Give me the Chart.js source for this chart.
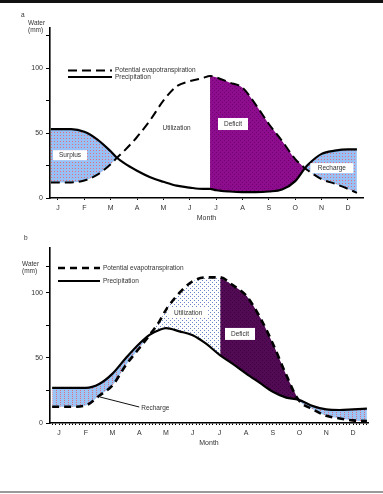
<!DOCTYPE html>
<html><head><meta charset="utf-8">
<script src="https://cdn.jsdelivr.net/npm/chart.js@4/dist/chart.umd.min.js"></script>
<style>
html,body{margin:0;padding:0;background:#fff;width:383px;height:494px;overflow:hidden}
body{position:relative}
#topbar{position:absolute;left:0;top:0;width:383px;height:3px;background:#111}
#bottombar{position:absolute;left:0;top:491px;width:383px;height:2px;background:#9a9a9a}
#ca{position:absolute;left:0;top:0}
#cb{position:absolute;left:0;top:230px}
</style></head><body>
<canvas id="ca" width="383" height="240"></canvas>
<canvas id="cb" width="383" height="224"></canvas>
<div id="topbar"></div>
<div id="bottombar"></div>
<script>
// ---------- data ----------
const MONTHS = ['J','F','M','A','M','J','J','A','S','O','N','D'];

// Panel a  (x = month index, J = 0)
const A_MONTH_POS = [-0.27,0,0.5,1,1.5,2,2.24,2.5,3,3.5,4,4.5,5,5.5,5.77,6,6.5,7,7.5,8,8.5,9,9.37,9.5,10,10.5,11,11.34];
const A_PRECIP    = [53,53,53,51,45,36,31,27,21,16,12.5,9.5,8,7,7,6,5,4.5,4.5,5,6.5,13,23,26,34,36.5,37.5,37.5];
const A_PET       = [12,12,12,13.5,18,26,31,36,47,60,75,86,90,92.5,94,93,89,85,72,57,44,30,23,21,14.5,11,7,4];
const A_DEFICIT_START = 5.77, A_DEFICIT_END = 9.37;
const A_LABELS = [
  {text:'Surplus', m:0.46, v:33, box:[34,10]},
  {text:'Utilization', m:4.5, v:54, box:null},
  {text:'Deficit', m:6.64, v:57, box:[30,12]},
  {text:'Recharge', m:10.39, v:23, box:[43,10]}
];

// Panel b
const B_MONTH_POS = [-0.26,0,0.5,1,1.5,2,2.5,3,3.4,3.75,4,4.5,5,5.5,6.03,6.5,7,7.5,8,8.5,8.95,9.5,10,10.5,11,11.52];
const B_PRECIP    = [27,27,27,27,30,38,50,61,68,71.5,73,70.5,67.5,61,52,45.5,38,31,24,19.5,18,13,10.5,10,10.5,11];
const B_PET       = [12.5,12.5,12.5,13.5,21,29,44.5,57.5,68,78,87,100,109,112,112,106,98,82,61,37,18,10.5,5.5,3.5,2,1.5];
const B_DEFICIT_START = 6.03, B_DEFICIT_END = 8.95;
const B_LABELS = [
  {text:'Utilization', m:4.83, v:84.6, box:[40,10]},
  {text:'Deficit', m:6.77, v:68.5, box:[30,12]},
  {text:'Recharge', m:3.6, v:11.5, box:null}
];
const B_LEADER = [[1.53,20],[3.0,12.3]];

const Y_LABELLED = [0,50,100];
const FONT = '"Liberation Sans", Arial, sans-serif';

// ---------- helpers ----------
function pattern(ctx, w, h, bg, fg, dots){
  const c = document.createElement('canvas'); c.width=w; c.height=h;
  const g = c.getContext('2d');
  g.fillStyle=bg; g.fillRect(0,0,w,h);
  g.fillStyle=fg; dots.forEach(d=>g.fillRect(d[0],d[1],d[2],d[3]));
  return ctx.createPattern(c,'repeat');
}
function pts(xs, ys){ return xs.map((x,i)=>({x:x, y:ys[i]})); }

function build(id, o){
  const canvas = document.getElementById(id);
  const ctx = canvas.getContext('2d');
  const s = o.x.indexOf(o.defStart), e = o.x.indexOf(o.defEnd);
  const datasets = [
    {data: pts(o.x.slice(s,e+1), o.pet.slice(s,e+1)), borderColor:'rgba(0,0,0,0)', borderWidth:0,
     pointRadius:0, fill:1, backgroundColor:o.fills.deficit, cubicInterpolationMode:'monotone'},
    {data: pts(o.x.slice(s,e+1), o.precip.slice(s,e+1)), borderColor:'rgba(0,0,0,0)', borderWidth:0,
     pointRadius:0, fill:false, cubicInterpolationMode:'monotone'},
    {label:'Potential evapotranspiration', data: pts(o.x,o.pet), borderColor:'#000', borderWidth:o.petWidth,
     borderDash:o.petDash, pointRadius:0, fill:{target:3, above:o.fills.above, below:o.fills.below},
     cubicInterpolationMode:'monotone'},
    {label:'Precipitation', data: pts(o.x,o.precip), borderColor:'#000', borderWidth:2.2, pointRadius:0,
     fill:false, cubicInterpolationMode:'monotone'}
  ];
  const overlay = {
    id:'overlay',
    afterDraw(chart){
      const c = chart.ctx, xs = chart.scales.x, ys = chart.scales.y;
      c.save();
      c.font = '6.5px '+FONT;
      c.textBaseline='middle';
      o.labels.forEach(l=>{
        const px = xs.getPixelForValue(l.m), py = ys.getPixelForValue(l.v);
        if (l.box){ c.fillStyle='#fff'; c.fillRect(px-l.box[0]/2, py-l.box[1]/2, l.box[0], l.box[1]); }
        c.fillStyle='#333'; c.textAlign='center'; c.fillText(l.text, px, py);
      });
      if (o.leader){
        c.strokeStyle='#111'; c.lineWidth=1; c.beginPath();
        c.moveTo(xs.getPixelForValue(o.leader[0][0]), ys.getPixelForValue(o.leader[0][1]));
        c.lineTo(xs.getPixelForValue(o.leader[1][0]), ys.getPixelForValue(o.leader[1][1]));
        c.stroke();
      }
      // legend
      const L = o.legend;
      c.strokeStyle='#000';
      c.lineWidth=o.petWidth; c.setLineDash(o.petDash);
      c.beginPath(); c.moveTo(L.x0, L.y1); c.lineTo(L.x1, L.y1); c.stroke();
      c.setLineDash([]); c.lineWidth=2.2;
      c.beginPath(); c.moveTo(L.x0, L.y2); c.lineTo(L.x1, L.y2); c.stroke();
      c.fillStyle='#333'; c.textAlign='left'; c.font='6.5px '+FONT;
      c.fillText(datasets[2].label, L.tx, L.y1);
      c.fillText(datasets[3].label, L.tx, L.y2);
      // axis title & panel letter
      c.fillText('Water', o.ytitle[0], o.ytitle[1]);
      c.fillText('(mm)', o.ytitle[0], o.ytitle[1]+7);
      c.fillText(o.panel, o.panelPos[0], o.panelPos[1]);
      c.restore();
    }
  };
  return new Chart(ctx, {
    type:'line',
    data:{datasets},
    plugins:[overlay],
    options:{
      responsive:false, animation:false, events:[],
      layout:{padding:o.padding},
      plugins:{legend:{display:false}, tooltip:{enabled:false}, filler:{drawTime:'beforeDatasetsDraw'}},
      scales:{
        x:{type:'linear', min:o.xmin, max:o.xmax,
           afterBuildTicks: sc=>{ sc.ticks = o.xTicks.map(v=>({value:v})); },
           ticks:{autoSkip:false, maxRotation:0, minRotation:0, padding:4, color:'#333',
                  font:{family:FONT, size:7}, callback:v=> Number.isInteger(v) ? MONTHS[v] : ''},
           grid:{drawOnChartArea:false, tickLength:o.xTickLen, color:'#000', tickWidth:1},
           border:{color:'#000', width:1.6},
           title:{display:true, text:'Month', color:'#333', font:{family:FONT, size:7}, padding:{top:0,bottom:o.titlePad}},
           afterFit: sc=>{ sc.height = o.xAxisH; }},
        y:{type:'linear', min:0, max:o.ymax,
           afterBuildTicks: sc=>{ sc.ticks = o.yTicks.map(v=>({value:v})); },
           ticks:{padding:3, color:'#333', font:{family:FONT, size:7},
                  callback:v=> Y_LABELLED.includes(v) ? String(v) : ''},
           grid:{drawOnChartArea:false, tickLength:4, color:'#000'},
           border:{color:'#000', width:1.6},
           afterFit: sc=>{ sc.width = 50; }}
      }
    }
  });
}

const ctxA = document.getElementById('ca').getContext('2d');
const ctxB = document.getElementById('cb').getContext('2d');
const xMinorB = []; for (let i=-2;i<=92;i++) xMinorB.push(i/8);

build('ca', {
  x:A_MONTH_POS, precip:A_PRECIP, pet:A_PET, defStart:A_DEFICIT_START, defEnd:A_DEFICIT_END,
  labels:A_LABELS, leader:null,
  fills:{
    deficit: pattern(ctxA,4,4,'#8e0c8e','#6e006e',[[0,0,1,1],[2,2,1,1]]),
    above:'rgba(0,0,0,0)',
    below: pattern(ctxA,3,3,'#98c0f4','#e07080',[[0,0,1,1]])
  },
  petWidth:2, petDash:[9,5],
  xmin:-0.3, xmax:11.57, ymax:131, yTicks:[0,25,50,75,100,125],
  xTicks:[0,1,2,3,4,5,6,7,8,9,10,11], xTickLen:2, xAxisH:42, titlePad:18,
  padding:{top:28,left:0,right:20,bottom:0},
  legend:{x0:68,x1:112,tx:115,y1:70.5,y2:77},
  ytitle:[28,23], panel:'a', panelPos:[21,15]
});

build('cb', {
  x:B_MONTH_POS, precip:B_PRECIP, pet:B_PET, defStart:B_DEFICIT_START, defEnd:B_DEFICIT_END,
  labels:B_LABELS, leader:B_LEADER,
  fills:{
    deficit: pattern(ctxB,4,4,'#520a54','#3a003c',[[0,0,1,1],[2,2,1,1]]),
    above: pattern(ctxB,4,4,'#ffffff','#6a86c4',[[0,0,1,1],[2,2,1,1]]),
    below: pattern(ctxB,4,2,'#9cc4f4','#d87088',[[0,0,1,1]])
  },
  petWidth:2.6, petDash:[7,5],
  xmin:-0.34, xmax:11.56, ymax:134.6, yTicks:[0,25,50,75,100,120],
  xTicks:xMinorB, xTickLen:2, xAxisH:31, titlePad:6.8,
  padding:{top:18,left:0,right:15,bottom:0},
  legend:{x0:58,x1:100,tx:103,y1:38,y2:51},
  ytitle:[22,34], panel:'b', panelPos:[24,8]
});
</script>
</body></html>
